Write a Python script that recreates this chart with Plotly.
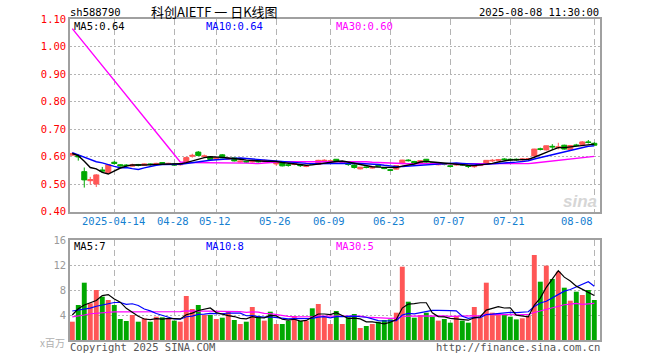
import pandas as pd
import plotly.graph_objects as go

# ---------------- data ----------------
holidays = ["2025-04-04", "2025-05-01", "2025-05-02", "2025-05-05", "2025-06-02"]
dates = list(pd.bdate_range("2025-04-02", "2025-08-08", freq="C", holidays=holidays))

opens = [0.605, 0.603, 0.545, 0.512, 0.500, 0.551, 0.541, 0.579, 0.570, 0.569,
         0.565, 0.571, 0.568, 0.573, 0.571, 0.578, 0.572, 0.573, 0.570, 0.577,
         0.601, 0.616, 0.600, 0.599, 0.591, 0.606, 0.590, 0.595, 0.580, 0.582,
         0.580, 0.584, 0.582, 0.584, 0.573, 0.577, 0.570, 0.571, 0.569, 0.564,
         0.574, 0.571, 0.584, 0.582, 0.590, 0.578, 0.573, 0.569, 0.555, 0.562,
         0.558, 0.567, 0.560, 0.552, 0.554, 0.574, 0.587, 0.582, 0.575, 0.590,
         0.577, 0.570, 0.574, 0.566, 0.569, 0.574, 0.566, 0.563, 0.567, 0.574,
         0.584, 0.586, 0.591, 0.590, 0.590, 0.588, 0.589, 0.602, 0.628, 0.624,
         0.637, 0.632, 0.641, 0.625, 0.642, 0.644, 0.653, 0.648]
highs = [0.614, 0.608, 0.560, 0.526, 0.536, 0.562, 0.572, 0.584, 0.572, 0.572,
         0.574, 0.573, 0.575, 0.575, 0.577, 0.579, 0.577, 0.576, 0.576, 0.600,
         0.610, 0.620, 0.607, 0.600, 0.598, 0.609, 0.597, 0.596, 0.586, 0.584,
         0.589, 0.585, 0.589, 0.586, 0.581, 0.578, 0.573, 0.577, 0.571, 0.569,
         0.576, 0.588, 0.590, 0.588, 0.591, 0.582, 0.576, 0.572, 0.562, 0.563,
         0.564, 0.568, 0.561, 0.555, 0.568, 0.588, 0.590, 0.584, 0.587, 0.591,
         0.579, 0.576, 0.576, 0.567, 0.574, 0.575, 0.569, 0.570, 0.574, 0.587,
         0.591, 0.591, 0.594, 0.593, 0.593, 0.594, 0.595, 0.628, 0.632, 0.640,
         0.645, 0.650, 0.643, 0.642, 0.646, 0.656, 0.660, 0.652]
lows = [0.603, 0.585, 0.487, 0.498, 0.489, 0.540, 0.538, 0.571, 0.563, 0.562,
        0.563, 0.564, 0.566, 0.567, 0.569, 0.571, 0.570, 0.566, 0.567, 0.575,
        0.596, 0.601, 0.595, 0.587, 0.588, 0.593, 0.588, 0.582, 0.578, 0.576,
        0.578, 0.578, 0.580, 0.580, 0.566, 0.564, 0.563, 0.568, 0.562, 0.561,
        0.569, 0.569, 0.582, 0.580, 0.580, 0.576, 0.566, 0.556, 0.553, 0.557,
        0.556, 0.563, 0.554, 0.547, 0.553, 0.572, 0.582, 0.573, 0.573, 0.578,
        0.572, 0.568, 0.568, 0.560, 0.567, 0.567, 0.558, 0.559, 0.566, 0.573,
        0.580, 0.584, 0.584, 0.585, 0.584, 0.585, 0.587, 0.600, 0.622, 0.622,
        0.625, 0.626, 0.625, 0.623, 0.638, 0.643, 0.647, 0.640]
closes = [0.611, 0.599, 0.515, 0.516, 0.533, 0.547, 0.570, 0.575, 0.566, 0.567,
          0.570, 0.568, 0.573, 0.571, 0.575, 0.574, 0.575, 0.569, 0.574, 0.596,
          0.604, 0.604, 0.602, 0.589, 0.594, 0.595, 0.593, 0.584, 0.583, 0.580,
          0.584, 0.581, 0.586, 0.582, 0.576, 0.566, 0.568, 0.574, 0.567, 0.566,
          0.572, 0.586, 0.586, 0.584, 0.582, 0.580, 0.571, 0.560, 0.561, 0.560,
          0.561, 0.565, 0.556, 0.550, 0.567, 0.587, 0.585, 0.575, 0.585, 0.580,
          0.575, 0.573, 0.572, 0.564, 0.572, 0.569, 0.564, 0.566, 0.573, 0.586,
          0.586, 0.588, 0.589, 0.588, 0.588, 0.591, 0.592, 0.627, 0.626, 0.639,
          0.635, 0.635, 0.627, 0.640, 0.640, 0.653, 0.651, 0.641]
volumes = [2.93, 5.60, 9.17, 5.87, 8.00, 6.93, 6.40, 5.60, 3.36, 3.04,
           4.00, 2.93, 3.47, 2.93, 3.73, 3.63, 3.47, 3.10, 2.93, 7.04,
           4.96, 5.60, 4.00, 4.00, 3.36, 3.57, 4.64, 3.20, 2.56, 2.93,
           5.28, 3.84, 3.10, 4.53, 2.56, 2.56, 3.10, 3.84, 3.04, 3.10,
           5.07, 5.76, 3.84, 2.56, 4.64, 2.56, 3.63, 4.16, 1.92, 2.24,
           2.56, 2.93, 3.20, 3.30, 4.37, 11.73, 6.13, 3.57, 4.00, 4.37,
           3.73, 3.10, 3.36, 2.77, 3.84, 3.10, 2.77, 5.28, 3.63, 9.17,
           4.37, 4.27, 4.16, 3.73, 3.30, 3.47, 3.84, 13.60, 9.33, 11.90,
           9.76, 10.93, 8.37, 6.29, 7.73, 7.20, 8.00, 6.40]

# moving-average values for the first bars (before a full window exists)
ma5_head = [0.611, 0.603, 0.583, 0.560]
ma10_head = [0.614, 0.606, 0.599, 0.589, 0.581, 0.577, 0.570, 0.564, 0.559]
ma30_head = [1.065, None, None, None, None, None, None, None, None, None,
             None, None, None, None, None, None, None, None, 0.580, 0.578,
             0.578, 0.578, 0.578, 0.577, 0.577, 0.577, 0.577, 0.577, 0.577]
vma5_head = [4.0, 5.0, 5.6, 5.9]
vma10_head = [4.64, 4.8, 5.0, 5.1, 5.4, 5.6, 5.8, 6.0, 6.0]
vma30_head = [3.7, 3.8, 4.0, 4.2, 4.3, 4.4, 4.5, 4.5, 4.5, 4.5,
              4.5, 4.5, 4.5, 4.5, 4.5, 4.5, 4.5, 4.5, 4.55, 4.65,
              4.65, 4.65, 4.65, 4.65, 4.65, 4.65, 4.6, 4.6, 4.55]

price_ticks = [0.40, 0.50, 0.60, 0.70, 0.80, 0.90, 1.00, 1.10]
vol_ticks = [4, 8, 12, 16]
date_ticks = ["2025-04-14", "2025-04-28", "2025-05-12", "2025-05-26", "2025-06-09",
              "2025-06-23", "2025-07-07", "2025-07-21", "2025-08-08"]
date_labels = ["2025-04-14", "04-28", "05-12", "05-26", "06-09", "06-23", "07-07", "07-21", "08-08"]

code = "sh588790"
title = "科创AIETF 一 日K线图"
stamp = "2025-08-08 11:30:00"
price_ma_text = ["MA5:0.64", "MA10:0.64", "MA30:0.60"]
vol_ma_text = ["MA5:7", "MA10:8", "MA30:5"]

# ---------------- helpers ----------------
def ma(values, n, head):
    s = pd.Series(values, dtype=float).rolling(n).mean().tolist()
    return list(head) + s[len(head):]

idx = list(range(len(closes)))
date_str = [d.strftime("%Y-%m-%d") for d in dates]
tick_idx = [date_str.index(d) for d in date_ticks]

RED = "#ff5656"
GREEN = "#00a800"
MONO = "DejaVu Sans Mono"

W, H = 660, 360
L, R, T, B = 70, 60, 19, 20
PH = H - T - B
def px(x):
    return (x - L) / (W - L - R)
def py(y):
    return (H - B - y) / PH

price_dom = [py(211.5), 1.0]
vol_dom = [0.0, py(240)]

vcolors = [RED if c >= o else GREEN for o, c in zip(opens, closes)]

fig = go.Figure()
fig.add_trace(go.Candlestick(
    x=idx, open=opens, high=highs, low=lows, close=closes,
    increasing=dict(line=dict(color=RED, width=1), fillcolor=RED),
    decreasing=dict(line=dict(color=GREEN, width=1), fillcolor=GREEN),
    whiskerwidth=0, hoverinfo="skip", xaxis="x", yaxis="y", showlegend=False))

for vals, col in [(ma(closes, 30, ma30_head), "#ff00ff"),
                  (ma(closes, 10, ma10_head), "#0000ff"),
                  (ma(closes, 5, ma5_head), "#000000")]:
    fig.add_trace(go.Scatter(x=idx, y=vals, mode="lines", connectgaps=True,
                             line=dict(color=col, width=1.4), hoverinfo="skip",
                             xaxis="x", yaxis="y", showlegend=False))

fig.add_trace(go.Bar(x=idx, y=volumes, marker=dict(color=vcolors, line=dict(width=0)),
                     width=0.82, hoverinfo="skip", xaxis="x2", yaxis="y2", showlegend=False))
for vals, col in [(ma(volumes, 30, vma30_head), "#ff00ff"),
                  (ma(volumes, 10, vma10_head), "#0000ff"),
                  (ma(volumes, 5, vma5_head), "#000000")]:
    fig.add_trace(go.Scatter(x=idx, y=vals, mode="lines",
                             line=dict(color=col, width=1.2), hoverinfo="skip",
                             xaxis="x2", yaxis="y2", showlegend=False))

xcommon = dict(range=[-0.38, 87.95], tickvals=tick_idx, showticklabels=False, ticks="",
               showgrid=True, gridcolor="#b4b4b4", griddash="6px,4px", gridwidth=1,
               showline=True, mirror=True, linecolor="#a0a0a0", linewidth=1.5,
               zeroline=False, fixedrange=True)

fig.update_layout(
    width=W, height=H, margin=dict(l=L, r=R, t=T, b=B),
    paper_bgcolor="white", plot_bgcolor="white",
    bargap=0.1, boxgap=0.16, boxgroupgap=0,
    xaxis=dict(**xcommon, domain=[0, 1], anchor="y", rangeslider=dict(visible=False)),
    xaxis2=dict(**xcommon, domain=[0, 1], anchor="y2", matches="x"),
    yaxis=dict(domain=price_dom, range=[0.40, 1.10], tickvals=price_ticks,
               ticktext=[f"{v:.2f}" for v in price_ticks],
               tickfont=dict(family=MONO, size=10.5, color="#ff0000"),
               showgrid=True, gridcolor="#b4b4b4", griddash="2px,2px",
               showline=True, mirror=True, linecolor="#a0a0a0", linewidth=1.5,
               zeroline=False, ticks="", anchor="x", fixedrange=True),
    yaxis2=dict(domain=vol_dom, range=[0, 16], tickvals=vol_ticks,
                ticktext=[str(v) for v in vol_ticks],
                tickfont=dict(family=MONO, size=10.5, color="#9a9a9a"),
                showgrid=True, gridcolor="#b4b4b4", griddash="2px,2px",
                showline=True, mirror=True, linecolor="#a0a0a0", linewidth=1.5,
                zeroline=False, ticks="", anchor="x2", fixedrange=True),
)

ann = []
def text(x, y, s, color="#000", size=10.5, family=MONO, xanchor="left", **kw):
    ann.append(dict(x=x, y=y, xref="paper", yref="paper", text=s, showarrow=False,
                    xanchor=xanchor, yanchor="middle", borderpad=0,
                    font=dict(family=family, size=size, color=color), **kw))

text(px(69), py(12), code, "#000")
text(px(150), py(11), title, "#000", size=13, family="Noto Sans CJK SC")
text(px(600), py(12), stamp, "#000", xanchor="right")
for s, x0, col in zip(price_ma_text, [73, 205, 335], ["#000000", "#0000ff", "#ff00ff"]):
    text(px(x0), py(26), s, col)
for s, x0, col in zip(vol_ma_text, [73, 205, 335], ["#000000", "#0000ff", "#ff00ff"]):
    text(px(x0), py(246), s, col)
text(px(66), py(342), "x百万", "#b0b0b0", size=10, family="Noto Sans CJK SC", xanchor="right")
text(px(69), py(347), "Copyright 2025 SINA.COM", "#555555")
text(px(601), py(347), "http://finance.sina.com.cn", "#555555", xanchor="right")
text(px(598), py(201), "<b><i>sina</i></b>", "#d6d6d6", size=17, family="Liberation Sans", xanchor="right")

for i, lab in zip(tick_idx, date_labels):
    last = lab == date_labels[-1]
    ann.append(dict(x=i + (0.15 if last else -0.15), y=py(221), xref="x", yref="paper", text=lab,
                    showarrow=False, xanchor="right" if last else "center", yanchor="middle",
                    font=dict(family=MONO, size=10.5, color="#1580d0")))

fig.update_layout(annotations=ann)
fig.write_html("out.html", config={"displayModeBar": False},
               post_script="document.body.style.margin='0';document.body.style.padding='0';")
